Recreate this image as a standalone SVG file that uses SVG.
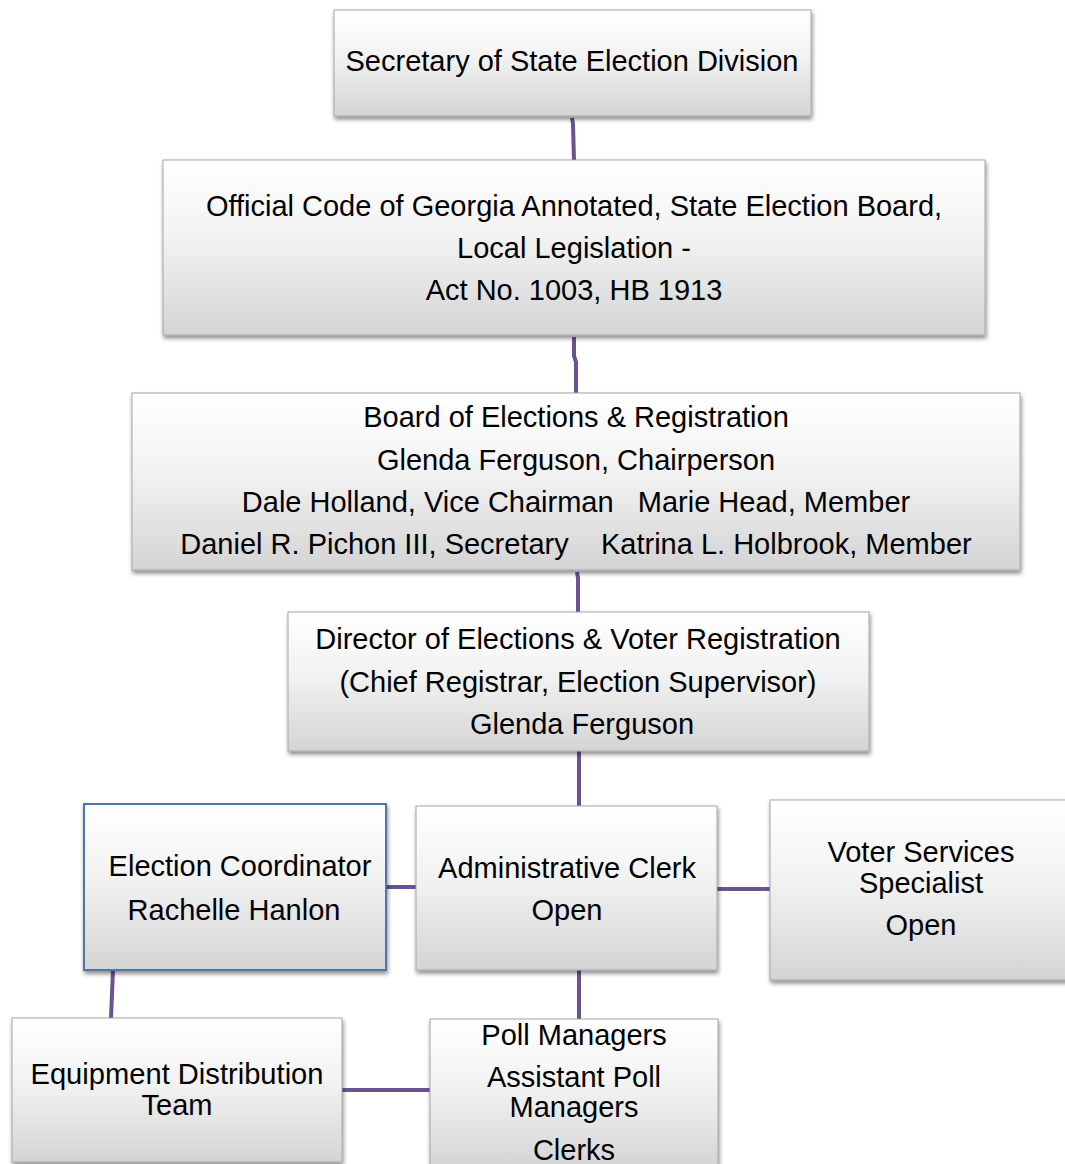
<svg xmlns="http://www.w3.org/2000/svg" width="1065" height="1164" viewBox="0 0 1065 1164">
<defs>
<linearGradient id="g" x1="0" y1="0" x2="0" y2="1">
<stop offset="0" stop-color="#ffffff"/>
<stop offset="0.45" stop-color="#f2f2f2"/>
<stop offset="1" stop-color="#d4d4d4"/>
</linearGradient>
<filter id="sh" x="-5%" y="-5%" width="110%" height="115%">
<feDropShadow dx="1" dy="3" stdDeviation="2" flood-color="#000" flood-opacity="0.45"/>
</filter>
</defs>
<style>
.box{fill:url(#g);stroke:#a6a6a6;stroke-width:1;filter:url(#sh)}
.blue{stroke:#4f76a8;stroke-width:2}
.t{font-family:"Liberation Sans",Arial,sans-serif;font-size:29px;fill:#000;text-anchor:middle}
.c{stroke:#6a5391;stroke-width:4;fill:none}
</style>
<g id="connectors">
<path class="c" d="M572 118 L573 124 L574 160"/>
<path class="c" d="M574 337 L574 356 L576 362 L576 393"/>
<path class="c" d="M577 572 L578 578 L578 612"/>
<line class="c" x1="579" y1="751" x2="579" y2="806"/>
<line class="c" x1="386" y1="887" x2="416" y2="887"/>
<line class="c" x1="717" y1="889" x2="770" y2="889"/>
<line class="c" x1="113" y1="970" x2="111" y2="1018"/>
<line class="c" x1="579" y1="970" x2="579" y2="1019"/>
<line class="c" x1="342" y1="1090" x2="430" y2="1090"/>
</g>
<g id="n1">
<rect class="box" x="334" y="10" width="477" height="106"/>
<text class="t" x="572" y="71">Secretary of State Election Division</text>
</g>
<g id="n2">
<rect class="box" x="163" y="160" width="822" height="175"/>
<text class="t" x="574" y="216">Official Code of Georgia Annotated, State Election Board,</text>
<text class="t" x="574" y="258">Local Legislation -</text>
<text class="t" x="574" y="300">Act No. 1003, HB 1913</text>
</g>
<g id="n3">
<rect class="box" x="132" y="393" width="888" height="177"/>
<text class="t" x="576" y="427">Board of Elections &amp; Registration</text>
<text class="t" x="576" y="470">Glenda Ferguson, Chairperson</text>
<text class="t" x="576" y="512" xml:space="preserve">Dale Holland, Vice Chairman   Marie Head, Member</text>
<text class="t" x="576" y="554" xml:space="preserve">Daniel R. Pichon III, Secretary    Katrina L. Holbrook, Member</text>
</g>
<g id="n4">
<rect class="box" x="288" y="612" width="581" height="139"/>
<text class="t" x="578" y="649">Director of Elections &amp; Voter Registration</text>
<text class="t" x="578" y="692">(Chief Registrar, Election Supervisor)</text>
<text class="t" x="582" y="734">Glenda Ferguson</text>
</g>
<g id="n5">
<rect class="box blue" x="84" y="804" width="302" height="166"/>
<text class="t" x="240" y="876">Election Coordinator</text>
<text class="t" x="234" y="920">Rachelle Hanlon</text>
</g>
<g id="n6">
<rect class="box" x="416" y="806" width="301" height="164"/>
<text class="t" x="567" y="878">Administrative Clerk</text>
<text class="t" x="567" y="920">Open</text>
</g>
<g id="n7">
<rect class="box" x="770" y="800" width="300" height="180"/>
<text class="t" x="921" y="862">Voter Services</text>
<text class="t" x="921" y="893">Specialist</text>
<text class="t" x="921" y="935">Open</text>
</g>
<g id="n8">
<rect class="box" x="12" y="1018" width="330" height="144"/>
<text class="t" x="177" y="1084" textLength="293" lengthAdjust="spacingAndGlyphs">Equipment Distribution</text>
<text class="t" x="177" y="1115">Team</text>
</g>
<g id="n9">
<rect class="box" x="430" y="1019" width="288" height="150"/>
<text class="t" x="574" y="1045">Poll Managers</text>
<text class="t" x="574" y="1087">Assistant Poll</text>
<text class="t" x="574" y="1117">Managers</text>
<text class="t" x="574" y="1160">Clerks</text>
</g>
</svg>
